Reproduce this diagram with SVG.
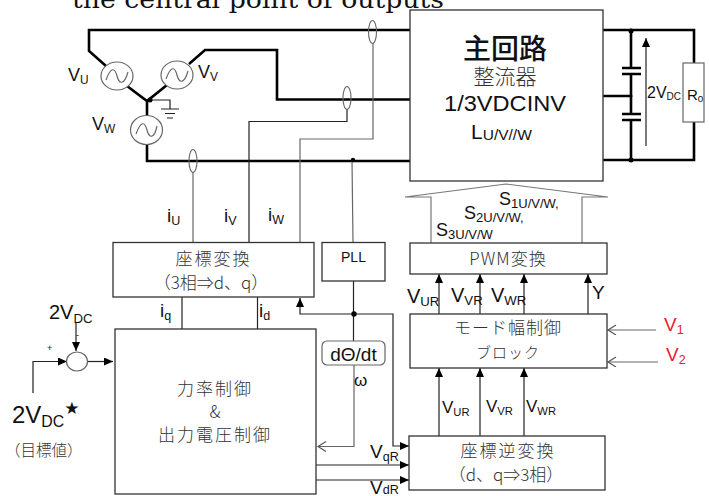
<svg xmlns="http://www.w3.org/2000/svg" width="709" height="496" viewBox="0 0 709 496">
<style>
text{font-family:"Liberation Sans","Noto Sans CJK JP",sans-serif;fill:#111}
.j{font-family:"Noto Sans CJK JP",sans-serif;fill:#333;font-weight:300}
.box{fill:#fff;stroke:#333;stroke-width:1.3}
.src{fill:#fff;stroke:#666;stroke-width:1.2}
.h{fill:none;stroke:#000;stroke-width:2.6}
.t{fill:none;stroke:#222;stroke-width:1.2}
.g{fill:none;stroke:#666;stroke-width:1.2}
.cap{stroke:#000;stroke-width:2.4}
.ct{fill:#fff;fill-opacity:0;stroke:#666;stroke-width:1.1}
.s{font-size:.66em}
.r{fill:#e8202a}
</style>
<defs>
<marker id="a" markerWidth="11" markerHeight="9" refX="9" refY="4" orient="auto" markerUnits="userSpaceOnUse"><path d="M0,0L9,4L0,8Z" fill="#000"/></marker>
<marker id="o" markerWidth="12" markerHeight="12" refX="9" refY="5" orient="auto" markerUnits="userSpaceOnUse"><path d="M1,0L9,5L1,10" fill="none" stroke="#555" stroke-width="1.2"/></marker>
</defs>
<text x="72" y="8" font-size="24" textLength="372" lengthAdjust="spacingAndGlyphs" style="font-family:'DejaVu Serif',serif">the central point of outputs</text>

<g id="connectors">
<path class="h" d="M410,30H89V51L106,66M127,86L147,101L167,85M189,64L205,50H277V99.5H410M147,100V116M147,145V161H410"/>
<path class="h" d="M603,30H694V160H603M631,30V68M631,74V114M631,120V160M603,96H631"/>
<path class="t" d="M150,100H170V109M161,109H179M165,113.500H175M167,118H173"/>
<path class="g" d="M373,43V139H300V243M193,172V243M352,160L353,243"/>
<path class="t" d="M347,109V121.500H249V243"/>
<path class="cap" d="M622,68H641M622,74H641M622,114H641M622,120H641"/>
<path class="t" d="M646,146V38" marker-end="url(#a)"/>
<path d="M431,243V197H405L506,184L608,197H582V243" fill="none" stroke="#777" stroke-width="1.2"/>
<path class="t" d="M182,297V329M257.500,297V329M353.500,281V341"/>
<path class="t" d="M354,314H300V298" marker-end="url(#a)"/>
<path class="t" d="M354,314H393V446H409" marker-end="url(#a)"/>
<path class="g" d="M354,365V446.500H318" marker-end="url(#o)"/>
<path class="t" d="M316,465H409" marker-end="url(#a)"/>
<path class="t" d="M316,480H409" marker-end="url(#a)"/>
<path class="t" d="M439,314V274" marker-end="url(#a)"/>
<path class="t" d="M480,314V274" marker-end="url(#a)"/>
<path class="t" d="M524,314V274" marker-end="url(#a)"/>
<path class="t" d="M588,314V274" marker-end="url(#a)"/>
<path class="t" d="M439,436V368" marker-end="url(#a)"/>
<path class="t" d="M480,436V368" marker-end="url(#a)"/>
<path class="t" d="M524,436V368" marker-end="url(#a)"/>
<path class="g" d="M656,330H608" marker-end="url(#o)"/>
<path class="g" d="M658,362H608" marker-end="url(#o)"/>
<path class="t" d="M76,322V351" marker-end="url(#a)"/>
<path class="t" d="M33,393V361.500H67" marker-end="url(#a)"/>
<path class="t" d="M88,361.500H113" marker-end="url(#a)"/>
<circle cx="150" cy="100" r="2.500"/><circle cx="353" cy="160" r="2.200"/><circle cx="354" cy="314" r="2.700"/><circle cx="631" cy="31" r="2.500"/><circle cx="631" cy="160" r="2.500"/><circle cx="631" cy="96" r="1.500"/>
<ellipse class="ct" cx="372.500" cy="32" rx="4" ry="11.500"/>
<ellipse class="ct" cx="347" cy="98" rx="4" ry="11.500"/>
<ellipse class="ct" cx="193" cy="161" rx="4" ry="11.500"/>
</g>

<g id="src-u"><ellipse class="src" cx="117" cy="76" rx="16" ry="14"/><path class="g" d="M106,80C111,66 115,68 117,76S124,86 128,72"/><text x="68" y="81" font-size="18">V<tspan class="s" dy="3">U</tspan></text></g>
<g id="src-v"><ellipse class="src" cx="177" cy="75" rx="16" ry="14"/><path class="g" d="M166,79C171,65 175,67 177,75S184,85 188,71"/><text x="198" y="78" font-size="18">V<tspan class="s" dy="3">V</tspan></text></g>
<g id="src-w"><ellipse class="src" cx="146.500" cy="130" rx="16" ry="14.500"/><path class="g" d="M136,134C141,120 145,122 147,130S154,140 157,126"/><text x="92" y="130" font-size="18">V<tspan class="s" dy="3">W</tspan></text></g>

<g id="main"><rect class="box" x="410" y="10" width="193" height="171"/>
<text x="505" y="59" font-size="28" text-anchor="middle" font-weight="500" style="font-family:'Noto Sans CJK JP',sans-serif" fill="#000">主回路</text>
<text x="505" y="84" class="j" font-size="21" text-anchor="middle">整流器</text>
<text x="505" y="111" font-size="22" text-anchor="middle" textLength="122" lengthAdjust="spacingAndGlyphs">1/3VDCINV</text>
<text x="471" y="139" font-size="21" fill="#222">L<tspan font-size="15.500" dy="1">U/V//W</tspan></text></g>

<g id="load"><rect class="src" x="683" y="63" width="21" height="59"/><text x="647" y="98" font-size="16">2V<tspan font-size="10" dy="2">DC</tspan></text><text x="687" y="100" font-size="15">R<tspan class="s" dy="2">0</tspan></text></g>

<g id="gate-labels"><text x="499" y="205" font-size="18">S<tspan font-size="13" dy="3">1U/V/W,</tspan></text><text x="464" y="219" font-size="18">S<tspan font-size="13" dy="3">2U/V/W,</tspan></text><text x="436" y="236" font-size="18">S<tspan font-size="13" dy="3">3U/V/W</tspan></text></g>

<g id="current-labels"><text x="167" y="222" font-size="19">i<tspan class="s" dy="3">U</tspan></text><text x="224" y="222" font-size="19">i<tspan class="s" dy="3">V</tspan></text><text x="268" y="221" font-size="19">i<tspan class="s" dy="3">W</tspan></text></g>

<g id="coord"><rect class="box" x="113" y="242.500" width="201" height="54.500"/><text x="213.500" y="265" class="j" font-size="17" text-anchor="middle" letter-spacing="2">座標変換</text><text x="211" y="289" class="j" font-size="17" text-anchor="middle">（3相⇒d、q）</text></g>
<g id="pll"><rect class="box" x="322" y="242.500" width="63" height="38.500"/><text x="353.500" y="262" font-size="14" text-anchor="middle" fill="#333">PLL</text></g>
<g id="pwm"><rect class="box" x="410" y="243" width="197" height="31"/><text x="508" y="265" font-size="17" class="j" text-anchor="middle" letter-spacing="1">PWM変換</text></g>
<g id="mode"><rect class="box" x="410" y="314" width="197" height="54"/><text x="508" y="334" class="j" font-size="17" text-anchor="middle" letter-spacing="1">モード幅制御</text><text x="508" y="358" class="j" font-size="15" text-anchor="middle" letter-spacing="1">ブロック</text></g>
<g id="inverse"><rect class="box" x="409" y="436" width="196" height="54"/><text x="508" y="457" class="j" font-size="17" text-anchor="middle" letter-spacing="2">座標逆変換</text><text x="506" y="481" class="j" font-size="17" text-anchor="middle">（d、q⇒3相）</text></g>
<g id="control"><rect class="box" x="115" y="329" width="201" height="165"/><text x="215" y="395" class="j" font-size="17" text-anchor="middle" letter-spacing="2">力率制御</text><text x="215" y="418" class="j" font-size="17" text-anchor="middle">&amp;</text><text x="215" y="441" class="j" font-size="17" text-anchor="middle" letter-spacing="2">出力電圧制御</text></g>
<g id="dtheta"><rect x="322" y="341" width="63" height="24" rx="5" fill="#fff" stroke="#666" stroke-width="1.2"/><text x="353.500" y="361" font-size="19" text-anchor="middle">dΘ/dt</text></g>
<g id="sum"><ellipse class="src" cx="77" cy="361.500" rx="10.500" ry="9.500"/><text x="47" y="351" font-size="9" fill="#555">+</text><text x="76" y="338" font-size="9" fill="#555">-</text></g>

<g id="labels">
<text x="49" y="319" font-size="20">2V<tspan class="s" dy="4">DC</tspan></text>
<text x="12" y="423" font-size="24">2V<tspan class="s" dy="4">DC</tspan><tspan dy="-13" style="font-family:'DejaVu Sans'" font-size="17">★</tspan></text>
<text x="5" y="456" class="j" font-size="15.500">（目標値）</text>
<text x="160" y="317" font-size="19">i<tspan class="s" dy="3">q</tspan></text>
<text x="259" y="317" font-size="19">i<tspan class="s" dy="3">d</tspan></text>
<text x="354" y="386" font-size="17">ω</text>
<text x="370" y="458" font-size="19">V<tspan class="s" dy="3">qR</tspan></text>
<text x="370" y="494" font-size="19">V<tspan class="s" dy="0">dR</tspan></text>
<text x="407" y="303" font-size="20">V<tspan class="s" dy="3">UR</tspan></text>
<text x="451" y="302" font-size="20">V<tspan class="s" dy="3">VR</tspan></text>
<text x="491" y="302" font-size="20">V<tspan class="s" dy="3">WR</tspan></text>
<text x="592" y="299" font-size="19">Y</text>
<text x="442" y="413" font-size="17">V<tspan class="s" dy="3">UR</tspan></text>
<text x="486" y="412" font-size="17">V<tspan class="s" dy="3">VR</tspan></text>
<text x="526" y="412" font-size="17">V<tspan class="s" dy="3">WR</tspan></text>
<text x="664" y="331" font-size="19" class="r">V<tspan class="s" dy="3">1</tspan></text>
<text x="666" y="361" font-size="19" class="r">V<tspan class="s" dy="3">2</tspan></text>
</g>
</svg>
